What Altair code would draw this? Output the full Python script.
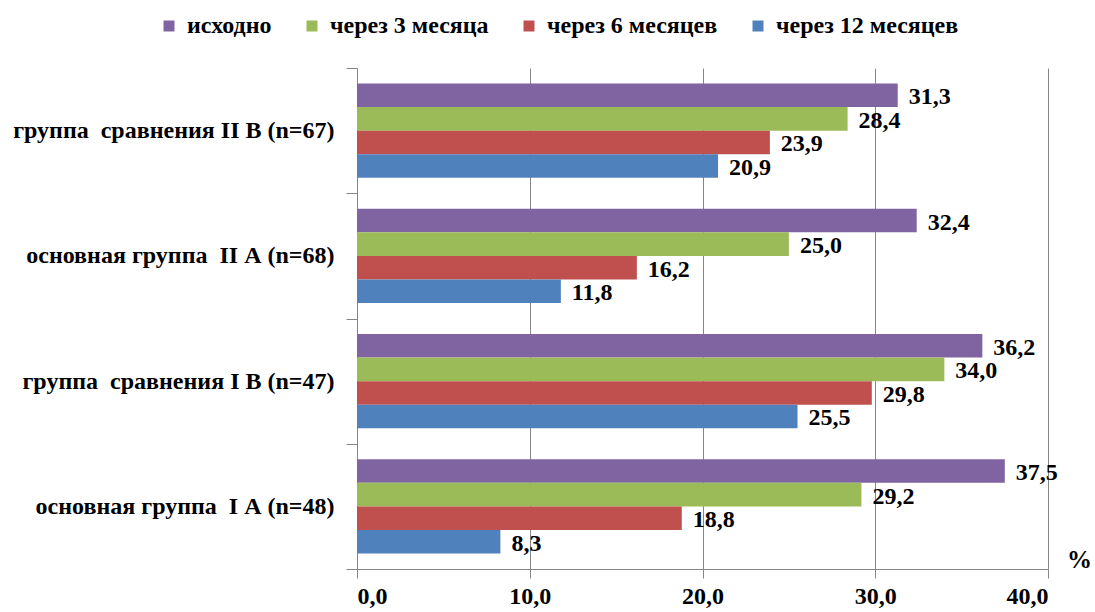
import altair as alt
import pandas as pd

groups = [
    "группа\u00a0 сравнения II В (n=67)",
    "основная группа\u00a0 II А (n=68)",
    "группа\u00a0 сравнения I В (n=47)",
    "основная группа\u00a0 I А (n=48)",
]
series = ["исходно", "через 3 месяца", "через 6 месяцев", "через 12 месяцев"]
colors = ["#8064A2", "#9BBB59", "#C0504D", "#4F81BD"]

values_baseline = [31.3, 32.4, 36.2, 37.5]
values_3m = [28.4, 25.0, 34.0, 29.2]
values_6m = [23.9, 16.2, 29.8, 18.8]
values_12m = [20.9, 11.8, 25.5, 8.3]

rows = []
for s, vals in zip(series, [values_baseline, values_3m, values_6m, values_12m]):
    for g, v in zip(groups, vals):
        rows.append({"group": g, "series": s, "value": v})
df = pd.DataFrame(rows)

FONT = "Liberation Serif"
FS = 24

y_enc = alt.Y(
    "group:N",
    sort=groups,
    scale=alt.Scale(paddingInner=0, paddingOuter=0),
    axis=alt.Axis(
        title=None,
        tickBand="extent",
        tickSize=11,
        labelPadding=12,
        labelFont=FONT,
        labelFontSize=FS,
        labelFontWeight="bold",
        labelColor="black",
        labelLimit=400,
        domainColor="#868686",
        tickColor="#868686",
        grid=False,
    ),
)
yoff = alt.YOffset("series:N", sort=series, scale=alt.Scale(paddingOuter=0.66, paddingInner=0))

x_enc = alt.X(
    "value:Q",
    scale=alt.Scale(domain=[0, 40]),
    axis=alt.Axis(
        values=[0, 10, 20, 30, 40],
        labelExpr="replace(format(datum.value, '.1f'), '.', ',')",
        title="%",
        titleX=722,
        titleY=-10,
        titleFont=FONT,
        titleFontSize=FS + 1,
        titleFontWeight="bold",
        titleColor="black",
        titleAlign="center",
        titleBaseline="middle",
        labelFont=FONT,
        labelFontSize=FS,
        labelFontWeight="bold",
        labelColor="black",
        labelPadding=6,
        tickSize=9,
        tickColor="#868686",
        domainColor="#868686",
        gridColor="#868686",
        gridWidth=1,
        grid=True,
    ),
)

bars = alt.Chart(df).mark_bar(height={"band": 1}).encode(
    x=x_enc,
    y=y_enc,
    yOffset=yoff,
    color=alt.Color(
        "series:N",
        sort=series,
        scale=alt.Scale(domain=series, range=colors),
        legend=alt.Legend(
            title=None,
            orient="none",
            direction="horizontal",
            legendX=-200,
            legendY=-54,
            symbolType="square",
            symbolSize=121,
            symbolStrokeWidth=0,
            labelFont=FONT,
            labelFontSize=FS,
            labelFontWeight="bold",
            labelColor="black",
            labelOffset=6,
            columnPadding=28,
            padding=0,
            labelLimit=300,
        ),
    ),
)

labels = alt.Chart(df).transform_calculate(
    lbl="replace(format(datum.value, '.1f'), '.', ',')"
).mark_text(
    align="left",
    baseline="middle",
    dx=11,
    dy=2,
    font=FONT,
    fontSize=FS,
    fontWeight="bold",
    color="black",
).encode(
    x=alt.X("value:Q"),
    y=alt.Y("group:N", sort=groups),
    yOffset=yoff,
    text="lbl:N",
)

chart = (
    alt.layer(bars, labels)
    .properties(
        width=691,
        height=501,
        autosize=alt.AutoSizeParams(type="none"),
        padding={"left": 357, "top": 68, "right": 47, "bottom": 43},
        background="white",
    )
    .configure_view(stroke=None)
)

chart.save("out.html", embed_options={"renderer": "svg", "actions": False})
